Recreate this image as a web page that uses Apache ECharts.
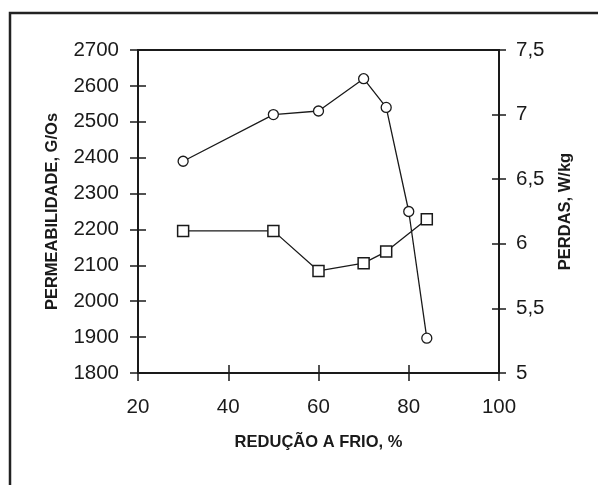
<!DOCTYPE html>
<html>
<head>
<meta charset="utf-8">
<script src="https://cdn.jsdelivr.net/npm/echarts@6/dist/echarts.min.js"></script>
<style>
html,body{margin:0;padding:0;background:#fff;}
#c{width:598px;height:485px;}
</style>
</head>
<body>
<div id="c"></div>
<script>
// Data
const reducao = [30, 50, 60, 70, 75, 80, 84];
const permeabilidade = [2390, 2520, 2530, 2620, 2540, 2250, 1897];
const reducaoPerdas = [30, 50, 60, 70, 75, 84];
const perdas = [6.1, 6.1, 5.79, 5.85, 5.94, 6.19];
const xTitle = 'REDUÇÃO A FRIO, %';
const yLeftTitle = 'PERMEABILIDADE, G/Os';
const yRightTitle = 'PERDAS, W/kg';

const pairs = (xs, ys) => xs.map((x, i) => [x, ys[i]]);
const ink = '#1a1a1a';
const font = 'Liberation Sans, Arial, sans-serif';

const chart = echarts.init(document.getElementById('c'), null, {renderer: 'canvas'});
const tickStyle = {color: ink, width: 1.5};
const titleStyle = {fontFamily: font, fontWeight: 'bold', fontSize: 16.5, color: ink};
const labelStyle = {fontFamily: font, fontSize: 20.5, color: ink};
chart.setOption({
  animation: false,
  backgroundColor: '#fff',
  graphic: [{
    type: 'rect', silent: true,
    shape: {x: 10, y: 13, width: 700, height: 600},
    style: {fill: 'none', stroke: '#222', lineWidth: 2.5}
  }],
  grid: {left: 138, right: 99, top: 50, bottom: 112, show: true, borderColor: ink, borderWidth: 2, backgroundColor: 'transparent'},
  xAxis: [{
    type: 'value', min: 20, max: 100, interval: 20,
    name: xTitle, nameLocation: 'middle', nameGap: 61,
    nameTextStyle: titleStyle,
    axisLine: {show: true, lineStyle: {color: ink, width: 2}},
    axisTick: {show: true, inside: false, length: 8, lineStyle: tickStyle},
    axisLabel: Object.assign({margin: 24}, labelStyle),
    splitLine: {show: false}
  }, {
    type: 'value', min: 20, max: 100, interval: 20, position: 'bottom',
    axisLine: {show: false}, axisTick: {show: true, inside: true, length: 8, lineStyle: tickStyle},
    axisLabel: {show: false}, splitLine: {show: false}
  }],
  yAxis: [{
    type: 'value', min: 1800, max: 2700, interval: 100, position: 'left',
    name: yLeftTitle, nameLocation: 'middle', nameGap: 77, nameRotate: 90,
    nameTextStyle: titleStyle,
    axisLine: {show: true, lineStyle: {color: ink, width: 2}},
    axisTick: {show: true, inside: false, length: 8, lineStyle: tickStyle},
    axisLabel: Object.assign({margin: 19, formatter: v => String(v)}, labelStyle),
    splitLine: {show: false}
  }, {
    type: 'value', min: 5, max: 7.5, interval: 0.5, position: 'right',
    name: yRightTitle, nameLocation: 'middle', nameGap: 58, nameRotate: 90,
    nameTextStyle: titleStyle,
    axisLine: {show: true, lineStyle: {color: ink, width: 2}},
    axisTick: {show: true, inside: false, length: 7, lineStyle: tickStyle},
    axisLabel: Object.assign({margin: 17, formatter: v => String(v).replace('.', ',')}, labelStyle),
    splitLine: {show: false}
  }, {
    type: 'value', min: 1800, max: 2700, interval: 100, position: 'left',
    axisLine: {show: false}, axisTick: {show: true, inside: true, length: 8, lineStyle: tickStyle},
    axisLabel: {show: false}, splitLine: {show: false}
  }, {
    type: 'value', min: 5, max: 7.5, interval: 0.5, position: 'right',
    axisLine: {show: false}, axisTick: {show: true, inside: true, length: 7, lineStyle: tickStyle},
    axisLabel: {show: false}, splitLine: {show: false}
  }],
  series: [{
    type: 'line', xAxisIndex: 0, yAxisIndex: 0,
    data: pairs(reducao, permeabilidade),
    symbol: 'circle', symbolSize: 10,
    lineStyle: {color: ink, width: 1.3},
    itemStyle: {color: '#fff', borderColor: ink, borderWidth: 1.3}
  }, {
    type: 'line', xAxisIndex: 0, yAxisIndex: 1,
    data: pairs(reducaoPerdas, perdas),
    symbol: 'rect', symbolSize: 11,
    lineStyle: {color: ink, width: 1.3},
    itemStyle: {color: '#fff', borderColor: ink, borderWidth: 1.5}
  }]
});
</script>
</body>
</html>
